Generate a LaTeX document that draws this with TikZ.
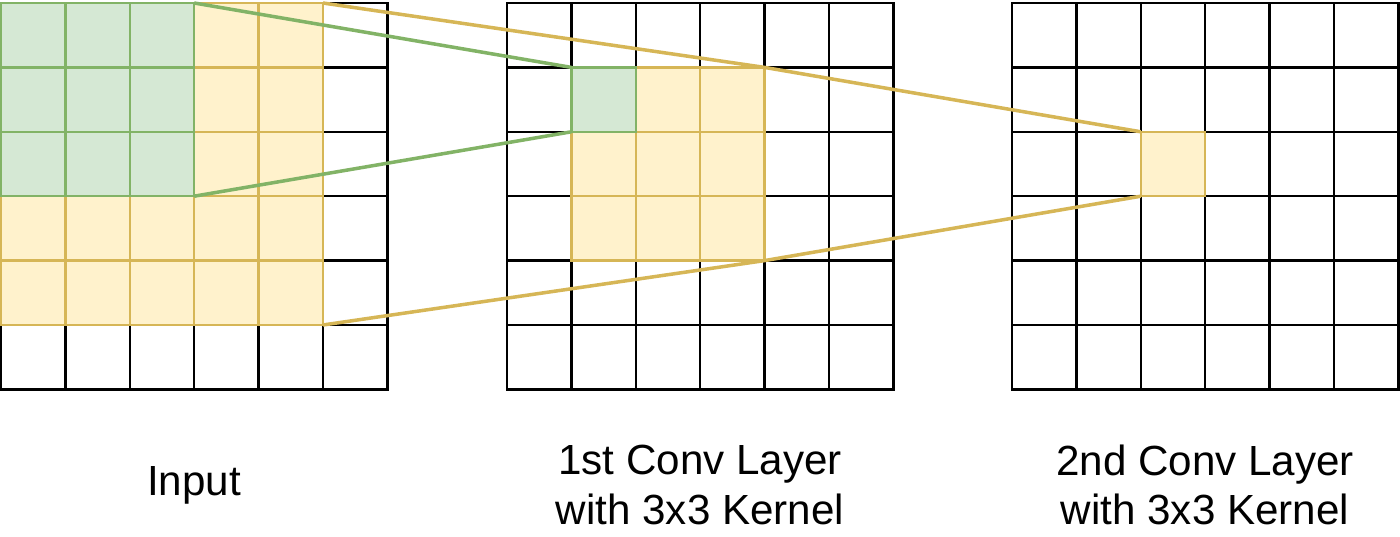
\documentclass[tikz,border=0pt]{standalone}
\usepackage{fontspec}
\setmainfont{Liberation Sans}
\usepackage{tikz}
\usetikzlibrary{calc,positioning}
\definecolor{kgreen}{HTML}{D5E8D4}
\definecolor{kgreenline}{HTML}{82B366}
\definecolor{kyellow}{HTML}{FFF2CC}
\definecolor{kyellowline}{HTML}{D6B656}

\begin{document}
\begin{tikzpicture}[x=0.02cm, y=-0.02cm,
    cell0/.style={draw=black, fill=white, line width=1.3pt, minimum size=1.288cm, inner sep=0pt, outer sep=0pt},
    cell1/.style={cell0, draw=kyellowline, fill=kyellow},
    cell2/.style={cell0, draw=kgreenline, fill=kgreen},
    link/.style={line width=2pt},
    layertext/.style={align=center, font=\fontsize{24}{28}\selectfont}]
    \useasboundingbox (0,0) rectangle (1400,537);
    % input grid
    \foreach \pass in {0,1,2}
      \foreach \r in {0,...,5}
        \foreach \c in {0,...,5} {
          \pgfmathtruncatemacro{\kind}{(\r<3 && \c<3) ? 2 : ((\r<5 && \c<5) ? 1 : 0)}
          \ifnum\kind=\pass
            \node[cell\kind] (in-\r-\c) at (\c*64.4+33.2, \r*64.4+35.2) {};
          \fi
        }
    % 1st conv layer
    \foreach \pass in {0,1,2}
      \foreach \r in {0,...,5}
        \foreach \c in {0,...,5} {
          \pgfmathtruncatemacro{\kind}{(\r==1 && \c==1) ? 2 : ((\r>0 && \r<4 && \c>0 && \c<4) ? 1 : 0)}
          \ifnum\kind=\pass
            \node[cell\kind] (cA-\r-\c) at (\c*64.4+539.2, \r*64.4+35.2) {};
          \fi
        }
    % 2nd conv layer
    \foreach \pass in {0,1}
      \foreach \r in {0,...,5}
        \foreach \c in {0,...,5} {
          \pgfmathtruncatemacro{\kind}{(\r==2 && \c==2) ? 1 : 0}
          \ifnum\kind=\pass
            \node[cell\kind] (cB-\r-\c) at (\c*64.4+1044.2, \r*64.4+35.2) {};
          \fi
        }
    % receptive field
    \draw[link, kgreenline] (in-0-2.north east) -- (cA-1-1.north west);
    \draw[link, kgreenline] (in-2-2.south east) -- (cA-1-1.south west);
    \draw[link, kyellowline] (in-0-4.north east) -- (cA-1-3.north east) -- (cB-2-2.north west);
    \draw[link, kyellowline] (in-4-4.south east) -- (cA-3-3.south east) -- (cB-2-2.south west);
    % captions
    \node[layertext] (inText) at (194,485) {Input};
    \node[layertext] (cAText) at (700,485) {1st Conv Layer\\with 3x3 Kernel};
    \node[layertext] (cBText) at (1205,485) {2nd Conv Layer\\with 3x3 Kernel};
\end{tikzpicture}
\end{document}
